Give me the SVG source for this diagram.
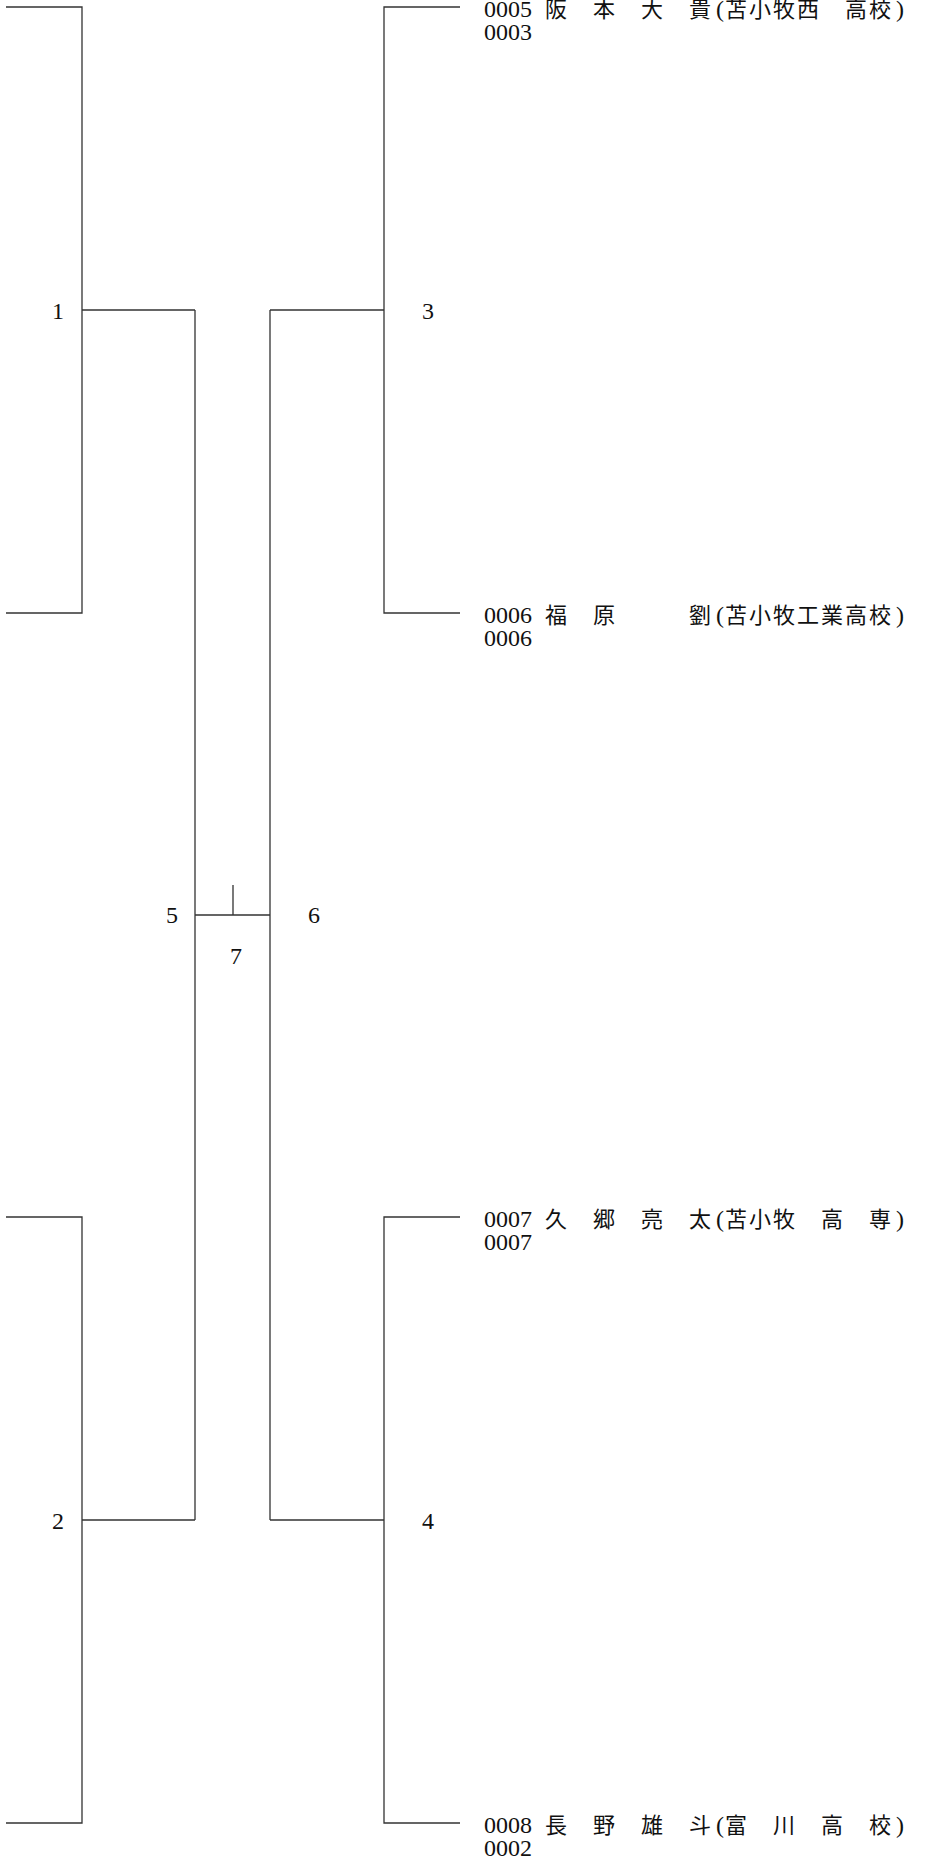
<svg xmlns="http://www.w3.org/2000/svg" width="925" height="1861" viewBox="0 0 925 1861">
<style>
.ln{stroke:#333;stroke-width:1.3;fill:none}
.t{font-family:"Liberation Serif","DejaVu Serif",serif;font-size:24px;fill:#111}
.c{font-family:"Noto Sans CJK JP","Noto Sans CJK SC",sans-serif;font-size:22px;fill:#111}
.lb{font-family:"Liberation Serif","DejaVu Serif",serif;font-size:24px;fill:#111;text-anchor:middle}
</style>
<rect width="925" height="1861" fill="#fff"/>
<g id="connectors">
<path class="ln" d="M6 7H82V613H6M82 310H195"/>
<path class="ln" d="M6 1217H82V1823H6M82 1520H195"/>
<path class="ln" d="M195 310V1520M195 915H270M233 885V915"/>
<path class="ln" d="M270 310V1520M270 310H384M270 1520H384"/>
<path class="ln" d="M460 7H384V613H460"/>
<path class="ln" d="M460 1217H384V1823H460"/>
</g>
<g id="match-labels">
<text id="m1" class="lb" x="58" y="319">1</text>
<text id="m2" class="lb" x="58" y="1529">2</text>
<text id="m3" class="lb" x="428" y="319">3</text>
<text id="m4" class="lb" x="428" y="1529">4</text>
<text id="m5" class="lb" x="172" y="923">5</text>
<text id="m6" class="lb" x="314" y="923">6</text>
<text id="m7" class="lb" x="236" y="964">7</text>
</g>
<g id="entry-0005">
<text class="t" x="484" y="17">0005</text>
<text class="c" y="17"><tspan x="545">阪</tspan><tspan x="593">本</tspan><tspan x="641">大</tspan><tspan x="689">貴</tspan></text>
<text class="t" x="716" y="17">(</text>
<text class="c" y="17"><tspan x="725">苫</tspan><tspan x="749">小</tspan><tspan x="773">牧</tspan><tspan x="797">西</tspan><tspan x="845">高</tspan><tspan x="869">校</tspan></text>
<text class="t" x="896" y="17">)</text>
<text class="t" x="484" y="40">0003</text>
</g>
<g id="entry-0006">
<text class="t" x="484" y="623">0006</text>
<text class="c" y="623"><tspan x="545">福</tspan><tspan x="593">原</tspan><tspan x="689">劉</tspan></text>
<text class="t" x="716" y="623">(</text>
<text class="c" y="623"><tspan x="725">苫</tspan><tspan x="749">小</tspan><tspan x="773">牧</tspan><tspan x="797">工</tspan><tspan x="821">業</tspan><tspan x="845">高</tspan><tspan x="869">校</tspan></text>
<text class="t" x="896" y="623">)</text>
<text class="t" x="484" y="646">0006</text>
</g>
<g id="entry-0007">
<text class="t" x="484" y="1227">0007</text>
<text class="c" y="1227"><tspan x="545">久</tspan><tspan x="593">郷</tspan><tspan x="641">亮</tspan><tspan x="689">太</tspan></text>
<text class="t" x="716" y="1227">(</text>
<text class="c" y="1227"><tspan x="725">苫</tspan><tspan x="749">小</tspan><tspan x="773">牧</tspan><tspan x="821">高</tspan><tspan x="869">専</tspan></text>
<text class="t" x="896" y="1227">)</text>
<text class="t" x="484" y="1250">0007</text>
</g>
<g id="entry-0008">
<text class="t" x="484" y="1833">0008</text>
<text class="c" y="1833"><tspan x="545">長</tspan><tspan x="593">野</tspan><tspan x="641">雄</tspan><tspan x="689">斗</tspan></text>
<text class="t" x="716" y="1833">(</text>
<text class="c" y="1833"><tspan x="725">富</tspan><tspan x="773">川</tspan><tspan x="821">高</tspan><tspan x="869">校</tspan></text>
<text class="t" x="896" y="1833">)</text>
<text class="t" x="484" y="1856">0002</text>
</g>
</svg>
